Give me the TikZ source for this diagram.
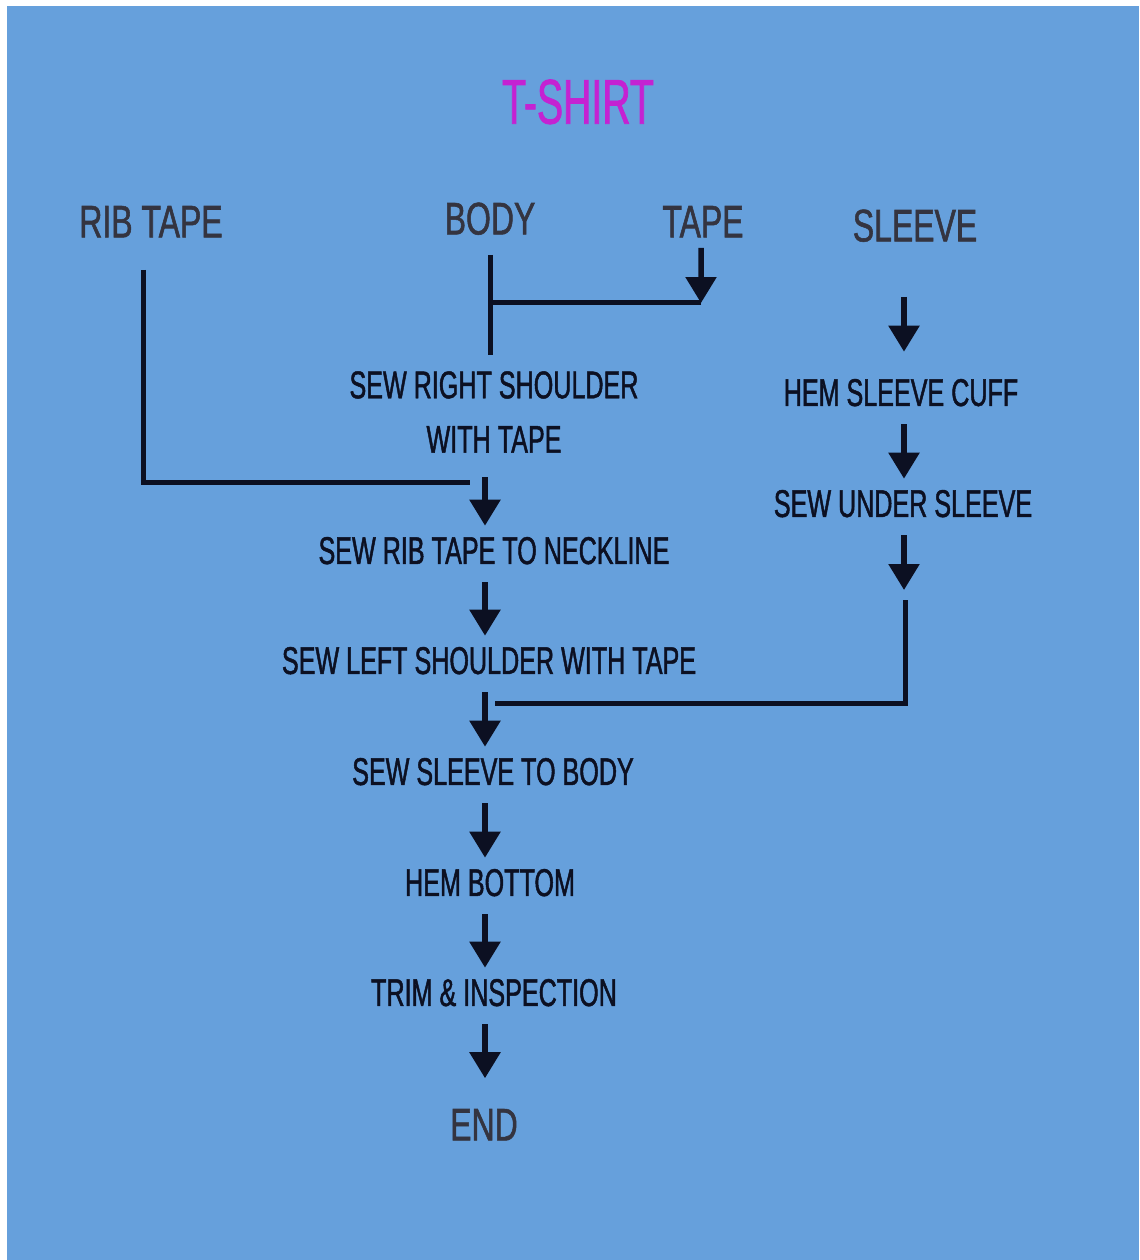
\documentclass[tikz,border=0pt]{standalone}
\usepackage{xcolor}
\usepackage{fontspec}
\setmainfont{Liberation Sans}
\newfontfamily\stepfont[FakeStretch=0.65,FakeBold=1.2]{Liberation Sans}
\newfontfamily\headfont[FakeStretch=0.70,FakeBold=1.2]{Liberation Sans}
\newfontfamily\titlefont[FakeStretch=0.62,FakeBold=1.2]{Liberation Sans}
\usepackage{tikz}
\usetikzlibrary{arrows.meta,positioning}
\definecolor{bgBlue}{RGB}{102,160,220}
\definecolor{inkNavy}{RGB}{12,16,34}
\definecolor{headGray}{RGB}{52,52,64}
\definecolor{titleMag}{RGB}{196,34,210}
\tikzset{
  head/.style={font=\headfont\fontsize{26}{30}\selectfont,text=headGray,
               inner sep=0pt,text height=18.7pt,text depth=0pt},
  stepbox/.style={font=\stepfont\fontsize{22}{31}\selectfont,text=inkNavy,
                  inner sep=0pt,text height=15.9pt,text depth=0pt,align=center},
  arr/.style={-{Triangle[width=0.6cm,length=0.52cm]},line width=0.11cm,
              draw=inkNavy,shorten <=0.36cm,shorten >=0.2cm},
  wire/.style={line width=0.1cm,draw=inkNavy},
}

\begin{document}
\begin{tikzpicture}[x=0.02cm,y=-0.02cm]
  %% -- Background ------------------------------------------------------------
  \fill[white] (0,0) rectangle (1139,1260);
  \fill[bgBlue] (7,6) rectangle (1139,1260);

  %% -- Title and inputs --------------------------------------------------------
  \node[font=\titlefont\fontsize{36}{40}\selectfont,text=titleMag,inner sep=0pt,
        text height=25.8pt,text depth=0pt] (title) at (578,101) {T-SHIRT};
  \node[head] (ribtape) at (151,221) {RIB TAPE};
  \node[head] (body)    at (490,218) {BODY};
  \node[head] (tape)    at (703,221) {TAPE};
  \node[head] (sleeve)  at (915,225) {SLEEVE};

  %% -- Main column -------------------------------------------------------------
  \node[stepbox,text height={},text depth={}] (rsh) at (494,412) {SEW RIGHT SHOULDER\\WITH TAPE};
  \node[stepbox] (rib)  at (494,550)  {SEW RIB TAPE TO NECKLINE};
  \node[stepbox] (lsh)  at (489,660)  {SEW LEFT SHOULDER WITH TAPE};
  \node[stepbox] (stb)  at (493,771)  {SEW SLEEVE TO BODY};
  \node[stepbox] (hem)  at (490,882)  {HEM BOTTOM};
  \node[stepbox] (trim) at (494,992)  {TRIM \& INSPECTION};
  \node[head] (end) at (484,1124) {END};

  %% -- Sleeve column -----------------------------------------------------------
  \node[stepbox] (cuff)  at (901,392) {HEM SLEEVE CUFF};
  \node[stepbox] (under) at (903,503) {SEW UNDER SLEEVE};

  %% -- Junctions -----------------------------------------------------------------
  \coordinate (mainx)  at (485,0);
  \coordinate (sidex)  at (904,0);
  \coordinate (jtape)  at (701,303);
  \coordinate (jrib)   at (470,482);
  \coordinate (jsl)    at (905,600);
  \coordinate (jmerge) at (495,703);

  %% -- Connectors ----------------------------------------------------------------
  \draw[wire,shorten <=0.4cm,shorten >=0.32cm] (body.south) -- (body.south |- rsh.north);
  \draw[arr,shorten <=0.2cm,shorten >=0pt] ([xshift=-0.04cm]tape.south) -- (jtape);
  \draw[wire] (jtape) -- (jtape -| body.south);
  \draw[wire,shorten <=0.64cm] ([xshift=-0.16cm]ribtape.south) |- (jrib);

  \draw[arr,shorten <=0.48cm] (rsh.south -| mainx) -- (rib.north -| mainx);
  \foreach \a/\b in {rib/lsh,lsh/stb,stb/hem,hem/trim}{
    \draw[arr] (\a.south -| mainx) -- (\b.north -| mainx);
  }
  \draw[arr,shorten >=0.58cm] (trim.south -| mainx) -- (end.north -| mainx);

  \draw[arr,shorten <=1.1cm,shorten >=0.52cm] (sleeve.south -| sidex) -- (cuff.north -| sidex);
  \draw[arr] (cuff.south -| sidex) -- (under.north -| sidex);
  \draw[arr] (under.south -| sidex) -- (jsl -| sidex);
  \draw[wire] (jsl) |- (jmerge);
\end{tikzpicture}
\end{document}
